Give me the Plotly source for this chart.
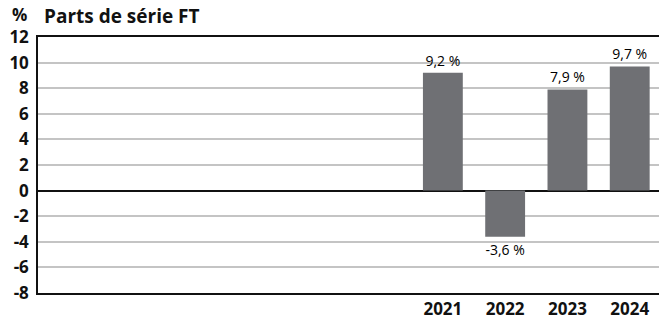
import plotly.graph_objects as go

# Annual change of FT series shares, in percent
years = [2021, 2022, 2023, 2024]
values = [9.2, -3.6, 7.9, 9.7]
y_ticks = [-8, -6, -4, -2, 0, 2, 4, 6, 8, 10, 12]

labels = [f"{v:.1f}".replace(".", ",") + " %" for v in values]

BAR = "#6f7074"
FONT = "Open Sans"

fig = go.Figure(
    go.Bar(
        x=years,
        y=values,
        width=0.64,
        marker=dict(color=BAR, line=dict(width=0)),
        text=labels,
        textposition="outside",
        textfont=dict(family=FONT, size=14, color="#000000"),
        cliponaxis=False,
    )
)

fig.update_layout(
    width=659,
    height=323,
    margin=dict(l=38, r=0, t=37, b=30),
    paper_bgcolor="white",
    plot_bgcolor="white",
    showlegend=False,
    font=dict(family=FONT, color="#111111"),
    xaxis=dict(
        range=[2014.5, 2024.47],
        tickvals=years,
        ticktext=[str(y) for y in years],
        tickfont=dict(family=FONT, size=17, color="#111111", weight="bold"),
        showgrid=False,
        showline=True,
        linecolor="#111111",
        linewidth=1.5,
        mirror=True,
        ticks="",
        zeroline=False,
    ),
    yaxis=dict(
        range=[-8, 12],
        tickvals=y_ticks,
        ticktext=[str(t) for t in y_ticks],
        tickfont=dict(family=FONT, size=17, color="#111111", weight="bold"),
        showgrid=True,
        gridcolor="#c4c4c4",
        gridwidth=1.5,
        showline=True,
        linecolor="#111111",
        linewidth=1.5,
        zeroline=True,
        zerolinecolor="#111111",
        zerolinewidth=1.5,
        ticks="",
        ticklabelstandoff=4,
    ),
    annotations=[
        dict(
            text="%",
            xref="paper", yref="paper",
            x=-0.029, y=1.0, xanchor="center", yanchor="bottom", yshift=9,
            showarrow=False,
            font=dict(family=FONT, size=17, color="#111111", weight="bold"),
        ),
        dict(
            text="Parts de série FT",
            xref="paper", yref="paper",
            x=0.007, y=1.0, xanchor="left", yanchor="bottom", yshift=6,
            showarrow=False,
            font=dict(family=FONT, size=19, color="#111111", weight="bold"),
        ),
    ],
)

fig.write_html("out.html")
